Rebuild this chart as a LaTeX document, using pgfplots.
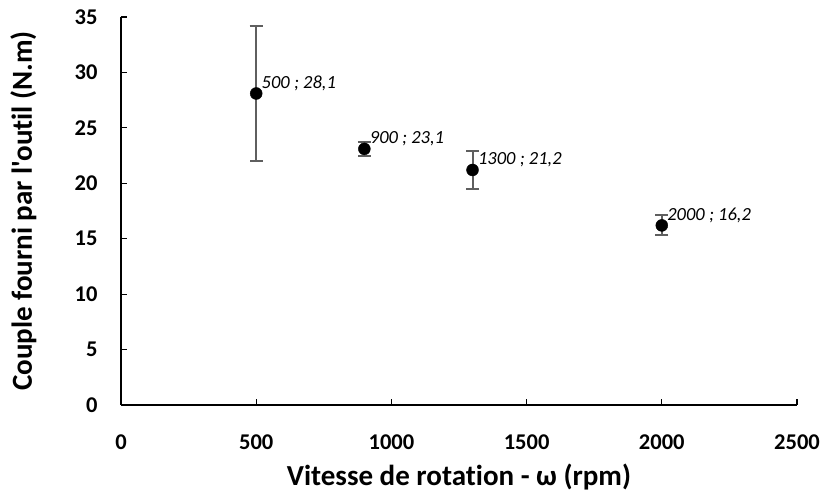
\documentclass[border=0pt]{standalone}
\usepackage{pgfplots}
\pgfplotsset{compat=1.18}
\usepackage{fontspec}
\setmainfont{Carlito}[Ligatures={TeX,NoCommon}]
\newfontfamily\carl{Carlito}[Ligatures=NoCommon]
\definecolor{errgray}{HTML}{5F5F5F}
\begin{document}
\begin{tikzpicture}
\useasboundingbox (-121pt,-89pt) rectangle (701pt,405pt);
\begin{axis}[
  scale only axis,
  width=676pt, height=388pt,
  xmin=0, xmax=2500, ymin=0, ymax=35,
  xtick={0,500,1000,1500,2000,2500},
  ytick={0,5,10,15,20,25,30,35},
  axis x line*=bottom, axis y line*=left,
  axis line style={line width=1.4pt, -},
  tick style={line width=1.1pt, black},
  major tick length=6pt,
  tick align=inside,
  /pgf/number format/assume math mode=true,
  /pgf/number format/1000 sep={},
  ticklabel style={font=\bfseries\fontsize{22.5}{26}\selectfont},
  xticklabel style={anchor=base, yshift=-45pt},
  yticklabel style={anchor=east, xshift=-20pt},
  xlabel={\bfseries\fontsize{29}{34}\selectfont Vitesse de rotation - ω (rpm)},
  ylabel={\carl\bfseries\fontsize{29}{34}\selectfont Couple fourni par l'outil (N.m)},
  xlabel style={at={(axis description cs:0.5,-0.2062)}, anchor=base},
  ylabel style={at={(axis description cs:-0.1317,0.5)}, anchor=base, rotate=0},
  clip=false,
  lab/.style={only marks, mark=none, nodes near coords={#1},
    nodes near coords style={anchor=west, xshift=2pt, yshift=10pt, font=\itshape\fontsize{18.5}{22}\selectfont, text=black}},
]
\addplot[only marks, mark=*, mark size=6pt, black,
  error bars/.cd, y dir=both, y explicit,
  error bar style={errgray, line width=2pt},
  error mark options={rotate=90, mark size=6.5pt, errgray, line width=2pt},
] table[x=x, y=y, y error=e] {
x y e
500 28.1 6.1
900 23.1 0.6
1300 21.2 1.7
2000 16.2 0.9
};
\addplot[lab={500 ; 28,1}] coordinates {(500,28.1)};
\addplot[lab={900 ; 23,1}] coordinates {(900,23.1)};
\addplot[lab={1300 ; 21,2}] coordinates {(1300,21.2)};
\addplot[lab={2000 ; 16,2}] coordinates {(2000,16.2)};
\end{axis}
\end{tikzpicture}
\end{document}
